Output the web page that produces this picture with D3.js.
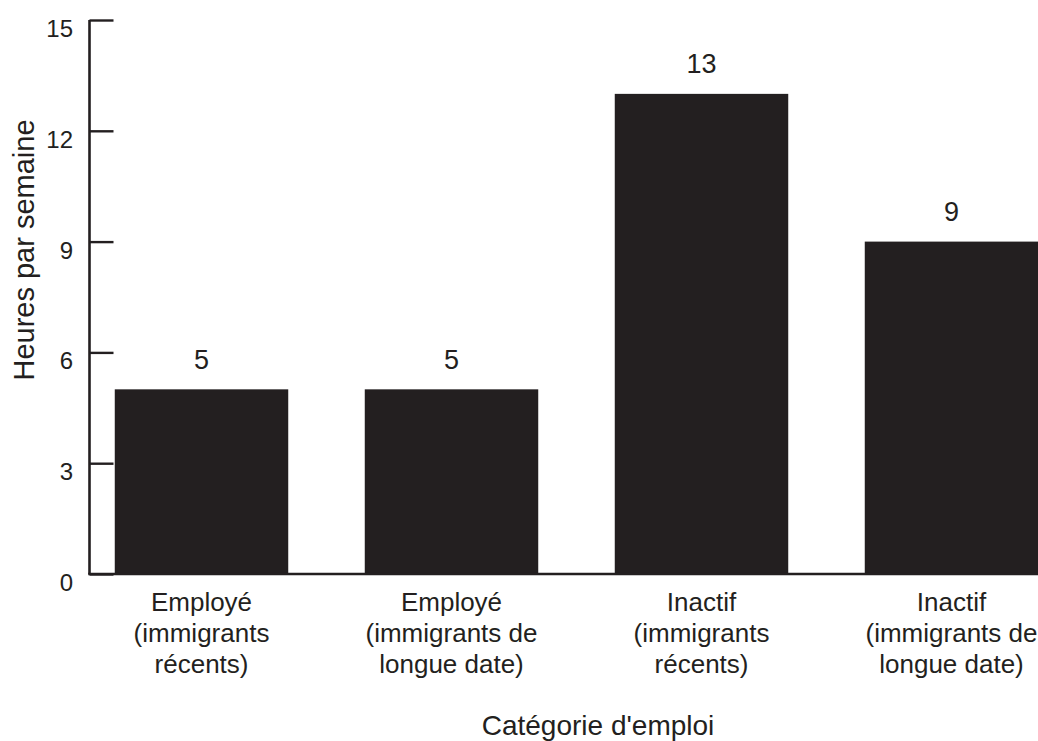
<!DOCTYPE html>
<html>
<head>
<meta charset="utf-8">
<script src="https://cdn.jsdelivr.net/npm/d3@7"></script>
<style>
  html, body { margin: 0; padding: 0; background: #fff; }
  svg { display: block; }
  text { font-family: "Liberation Sans", Arial, sans-serif; fill: #231f20; }
</style>
</head>
<body>
<svg id="chart" width="1038" height="741"></svg>
<script>
// Weekly hours by employment category
const categories = [
  "Employé (immigrants récents)",
  "Employé (immigrants de longue date)",
  "Inactif (immigrants récents)",
  "Inactif (immigrants de longue date)"
];
const categoryLines = [
  ["Employé", "(immigrants", "récents)"],
  ["Employé", "(immigrants de", "longue date)"],
  ["Inactif", "(immigrants", "récents)"],
  ["Inactif", "(immigrants de", "longue date)"]
];
const hours = [5, 5, 13, 9];
const yTicks = [0, 3, 6, 9, 12, 15];
const yTitle = "Heures par semaine";
const xTitle = "Catégorie d'emploi";

const ink = "#231f20";
const svg = d3.select("#chart");

const axisX = 89.5;
const y = d3.scaleLinear().domain([0, 15]).range([574, 20]);
const x = d3.scaleBand()
  .domain(categories)
  .range([76.5, 1076.5])
  .paddingInner(0.3061)
  .paddingOuter(0.15305);

// bars
svg.append("g").selectAll("rect")
  .data(hours)
  .join("rect")
  .attr("x", (d, i) => x(categories[i]))
  .attr("y", d => y(d))
  .attr("width", x.bandwidth())
  .attr("height", d => y(0) - y(d))
  .attr("fill", ink);

// y axis: line with inward ticks
const yAxis = svg.append("g").attr("transform", `translate(${axisX},0)`)
  .call(d3.axisRight(y).tickValues(yTicks).tickSize(24).tickFormat(""));
yAxis.select(".domain").attr("stroke", ink).attr("stroke-width", 2.6)
  .attr("d", `M0,${y(15)}V${y(0)}`);
yAxis.selectAll(".tick line").attr("stroke", ink).attr("stroke-width", 2.4);

// y tick labels, top-aligned with their tick
svg.append("g").selectAll("text")
  .data(yTicks)
  .join("text")
  .attr("x", 73)
  .attr("y", d => y(d) + 17)
  .attr("text-anchor", "end")
  .attr("font-size", 24)
  .text(d => d);

// x axis baseline
svg.append("line")
  .attr("x1", axisX - 1.3).attr("x2", 1038)
  .attr("y1", y(0)).attr("y2", y(0))
  .attr("stroke", ink).attr("stroke-width", 2.4);

// value labels
svg.append("g").selectAll("text")
  .data(hours)
  .join("text")
  .attr("x", (d, i) => x(categories[i]) + x.bandwidth() / 2)
  .attr("y", d => y(d) - 20.5)
  .attr("text-anchor", "middle")
  .attr("font-size", 27)
  .text(d => d);

// category labels on three lines
const catG = svg.append("g").selectAll("text")
  .data(categoryLines)
  .join("text")
  .attr("text-anchor", "middle")
  .attr("font-size", 26)
  .attr("transform", (d, i) => `translate(${x(categories[i]) + x.bandwidth() / 2},${y(0) + 36.5})`);
catG.selectAll("tspan")
  .data(d => d)
  .join("tspan")
  .attr("x", 0)
  .attr("y", (d, j) => j * 31.3)
  .text(d => d);

// axis titles
svg.append("text")
  .attr("transform", `translate(34,250) rotate(-90)`)
  .attr("text-anchor", "middle")
  .attr("font-size", 29)
  .text(yTitle);

svg.append("text")
  .attr("x", 598)
  .attr("y", 735)
  .attr("text-anchor", "middle")
  .attr("font-size", 28)
  .text(xTitle);
</script>
</body>
</html>
